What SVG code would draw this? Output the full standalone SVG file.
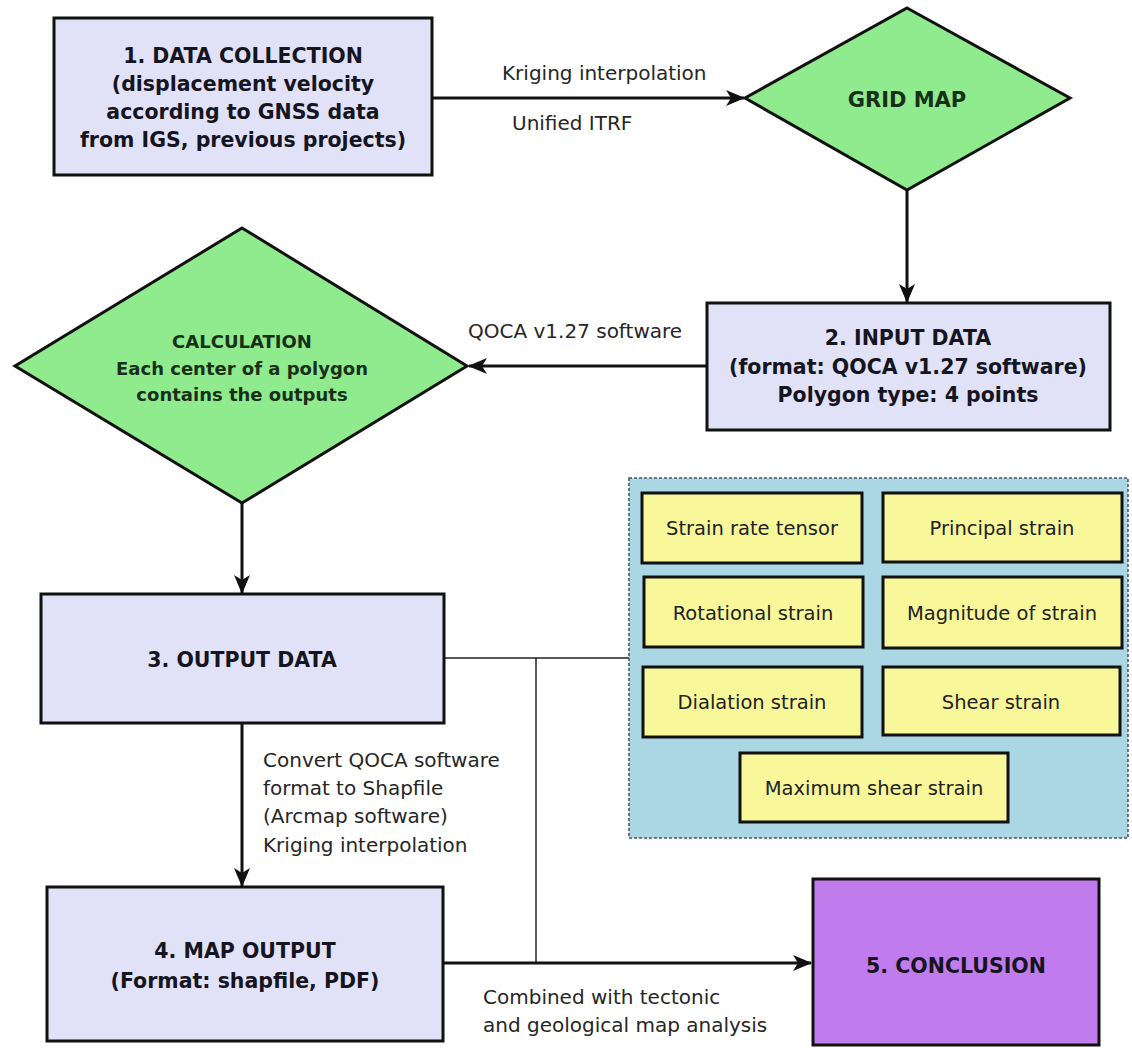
<svg xmlns="http://www.w3.org/2000/svg" width="1132" height="1048" viewBox="0 0 1132 1048">
<style>
  .box { fill: #E1E1F7; stroke: #111; stroke-width: 3; }
  .dia { fill: #90EB8E; stroke: #111; stroke-width: 3; stroke-linejoin: miter; }
  .concl { fill: #C07BEC; stroke: #111; stroke-width: 3; }
  .panel { fill: #ABD6E3; stroke: #4A5766; stroke-width: 1.6; stroke-dasharray: 3 2; }
  .ybox { fill: #F8F79A; stroke: #111; stroke-width: 3; }
  .b { font-family: "DejaVu Sans", Verdana, sans-serif; font-weight: bold; font-size: 20.5px; fill: #15151f; text-anchor: middle; }
  .bd { font-family: "DejaVu Sans", Verdana, sans-serif; font-weight: bold; fill: #173017; text-anchor: middle; }
  .lbl { font-family: "DejaVu Sans", Verdana, sans-serif; font-size: 20px; fill: #262626; }
  .y { font-family: "DejaVu Sans", Verdana, sans-serif; font-size: 19.5px; fill: #222; text-anchor: middle; }
  .thick { stroke: #111; stroke-width: 3; fill: none; }
  .thin { stroke: #222; stroke-width: 1.5; fill: none; }
</style>
<defs>
  <marker id="arr" markerUnits="userSpaceOnUse" markerWidth="20" markerHeight="16" viewBox="0 0 20 16" refX="18" refY="8" orient="auto">
    <path d="M0,0 L19,8 L0,16 L5,8 z" fill="#111"/>
  </marker>
</defs>
<rect width="1132" height="1048" fill="#fff"/>

<g id="connectors">
  <line class="thick" x1="432" y1="98" x2="744" y2="98" marker-end="url(#arr)"/>
  <line class="thick" x1="907" y1="190" x2="907" y2="302" marker-end="url(#arr)"/>
  <line class="thick" x1="707" y1="366" x2="469" y2="366" marker-end="url(#arr)"/>
  <line class="thick" x1="242" y1="503" x2="242" y2="593" marker-end="url(#arr)"/>
  <line class="thick" x1="242" y1="723" x2="242" y2="886" marker-end="url(#arr)"/>
  <line class="thin" x1="444" y1="658" x2="629" y2="658"/>
  <line class="thin" x1="536" y1="658" x2="536" y2="963"/>
  <line class="thick" x1="443" y1="963" x2="811" y2="963" marker-end="url(#arr)"/>
  <text class="lbl" x="502" y="80">Kriging interpolation</text>
  <text class="lbl" x="512" y="130">Unified ITRF</text>
  <text class="lbl" x="468" y="338">QOCA v1.27 software</text>
  <text class="lbl" x="263" y="767">Convert QOCA software</text>
  <text class="lbl" x="263" y="795">format to Shapfile</text>
  <text class="lbl" x="263" y="823">(Arcmap software)</text>
  <text class="lbl" x="263" y="852">Kriging interpolation</text>
  <text class="lbl" x="483" y="1004">Combined with tectonic</text>
  <text class="lbl" x="483" y="1032">and geological map analysis</text>
</g>

<g id="node-data-collection">
  <rect class="box" x="54" y="18" width="378" height="157"/>
  <text class="b" x="243" y="63">1. DATA COLLECTION</text>
  <text class="b" x="243" y="91">(displacement velocity</text>
  <text class="b" x="243" y="119">according to GNSS data</text>
  <text class="b" x="243" y="147">from IGS, previous projects)</text>
</g>

<g id="node-grid-map">
  <polygon class="dia" points="907,8 1070,98 907,190 745,98"/>
  <text class="bd" x="907" y="107" font-size="21">GRID MAP</text>
</g>

<g id="node-input-data">
  <rect class="box" x="707" y="303" width="403" height="127"/>
  <text class="b" x="908" y="345">2. INPUT DATA</text>
  <text class="b" x="908" y="374">(format: QOCA v1.27 software)</text>
  <text class="b" x="908" y="402">Polygon type: 4 points</text>
</g>

<g id="node-calculation">
  <polygon class="dia" points="242,228 467,366 242,503 15,366"/>
  <text class="bd" x="242" y="348" font-size="18">CALCULATION</text>
  <text class="bd" x="242" y="375" font-size="18">Each center of a polygon</text>
  <text class="bd" x="242" y="401" font-size="18">contains the outputs</text>
</g>

<g id="node-output-data">
  <rect class="box" x="41" y="594" width="403" height="129"/>
  <text class="b" x="242" y="667">3. OUTPUT DATA</text>
</g>

<g id="node-strain-panel">
  <rect class="panel" x="629" y="478" width="499" height="360"/>
  <rect class="ybox" x="642" y="493" width="220" height="70"/>
  <text class="y" x="752" y="535">Strain rate tensor</text>
  <rect class="ybox" x="883" y="493" width="239" height="69"/>
  <text class="y" x="1002" y="535">Principal strain</text>
  <rect class="ybox" x="644" y="577" width="219" height="70"/>
  <text class="y" x="753" y="620">Rotational strain</text>
  <rect class="ybox" x="883" y="577" width="239" height="71"/>
  <text class="y" x="1002" y="620">Magnitude of strain</text>
  <rect class="ybox" x="643" y="667" width="219" height="70"/>
  <text class="y" x="752" y="709">Dialation strain</text>
  <rect class="ybox" x="883" y="667" width="237" height="68"/>
  <text class="y" x="1001" y="709">Shear strain</text>
  <rect class="ybox" x="740" y="753" width="268" height="69"/>
  <text class="y" x="874" y="795">Maximum shear strain</text>
</g>

<g id="node-map-output">
  <rect class="box" x="47" y="887" width="396" height="154"/>
  <text class="b" x="245" y="958">4. MAP OUTPUT</text>
  <text class="b" x="245" y="988">(Format: shapfile, PDF)</text>
</g>

<g id="node-conclusion">
  <rect class="concl" x="813" y="879" width="286" height="166"/>
  <text class="b" x="956" y="973" font-size="22">5. CONCLUSION</text>
</g>
</svg>
